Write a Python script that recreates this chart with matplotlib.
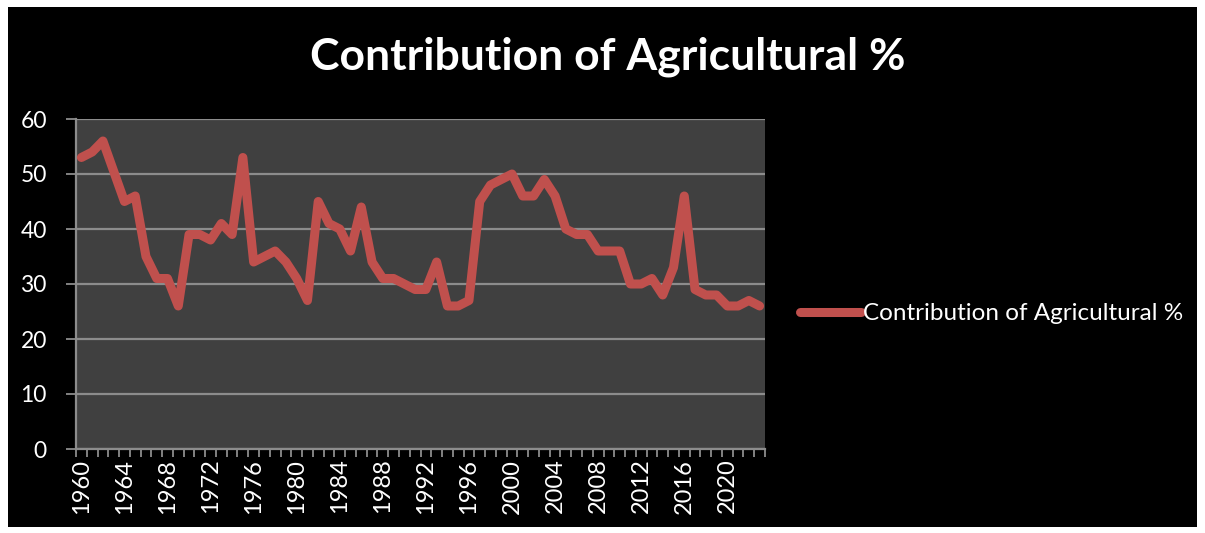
import numpy as np
import matplotlib
matplotlib.use("Agg")
import matplotlib.pyplot as plt
from matplotlib.patches import Rectangle
from matplotlib.ticker import FixedLocator, NullFormatter

# data
years = list(range(1960, 2024))
agri = [53, 54, 56, 50.5, 45, 46, 35, 31, 31, 26,
        39, 39, 38, 41, 39, 53, 34, 35, 36, 34,
        31, 27, 45, 41, 40, 36, 44, 34, 31, 31,
        30, 29, 29, 34, 26, 26, 27, 45, 48, 49,
        50, 46, 46, 49, 46, 40, 39, 39, 36, 36,
        36, 30, 30, 31, 28, 33, 46, 29, 28, 28,
        26, 26, 27, 26]
series_name = "Contribution of Agricultural %"
title = "Contribution of Agricultural %"

plt.rcParams['font.family'] = ['Lato', 'DejaVu Sans']

W, H = 1205, 533
fig = plt.figure(figsize=(W / 100, H / 100), dpi=100, facecolor='white')
# black chart background with thin white frame
fig.patches.append(Rectangle((8 / W, 1 - 527 / H), (1197 - 8) / W, (527 - 7) / H,
                             transform=fig.transFigure, facecolor='black',
                             edgecolor='none', zorder=0))

ax = fig.add_axes([76 / W, 1 - 449 / H, (765 - 76) / W, (449 - 119) / H])
ax.set_zorder(2)
ax.set_facecolor('#404040')

x = np.arange(len(years))
ax.plot(x, agri, color='#C0504D', linewidth=6.5, solid_joinstyle='round',
        solid_capstyle='round', label=series_name, zorder=3)

ax.set_xlim(-0.5, len(years) - 0.5)
ax.set_ylim(0, 60)
ax.set_yticks(np.arange(0, 61, 10))
ax.grid(axis='y', color='#8c8c8c', linewidth=1.6, zorder=1)

# category labels every 4 years, tick marks at every category boundary
ax.set_xticks(x[::4])
ax.set_xticklabels([str(y) for y in years[::4]], rotation=90)
ax.xaxis.set_minor_locator(FixedLocator(np.arange(-0.5, len(years), 1)))
ax.xaxis.set_minor_formatter(NullFormatter())
ax.tick_params(axis='x', which='major', length=0, pad=7, labelsize=17, colors='white')
ax.tick_params(axis='x', which='minor', length=6, width=1.3, color='#8c8c8c', direction='out')
ax.tick_params(axis='y', length=7, width=1.3, color='#8c8c8c', pad=14, labelsize=16.5,
               labelcolor='white')

for side in ['top', 'right']:
    ax.spines[side].set_visible(False)
for side in ['left', 'bottom']:
    ax.spines[side].set_color('#8c8c8c')
    ax.spines[side].set_linewidth(1.6)

fig.text(608 / W, 1 - 57 / H, title, color='white', fontsize=32, fontweight='bold',
         ha='center', va='center', zorder=3)

leg = ax.legend(loc='center left', bbox_to_anchor=(1.037, 0.41), frameon=False,
                fontsize=17.5, handlelength=2.5, handletextpad=0.1, borderaxespad=0)
for t in leg.get_texts():
    t.set_color('white')

fig.savefig('out.png', dpi=100, facecolor='white')
